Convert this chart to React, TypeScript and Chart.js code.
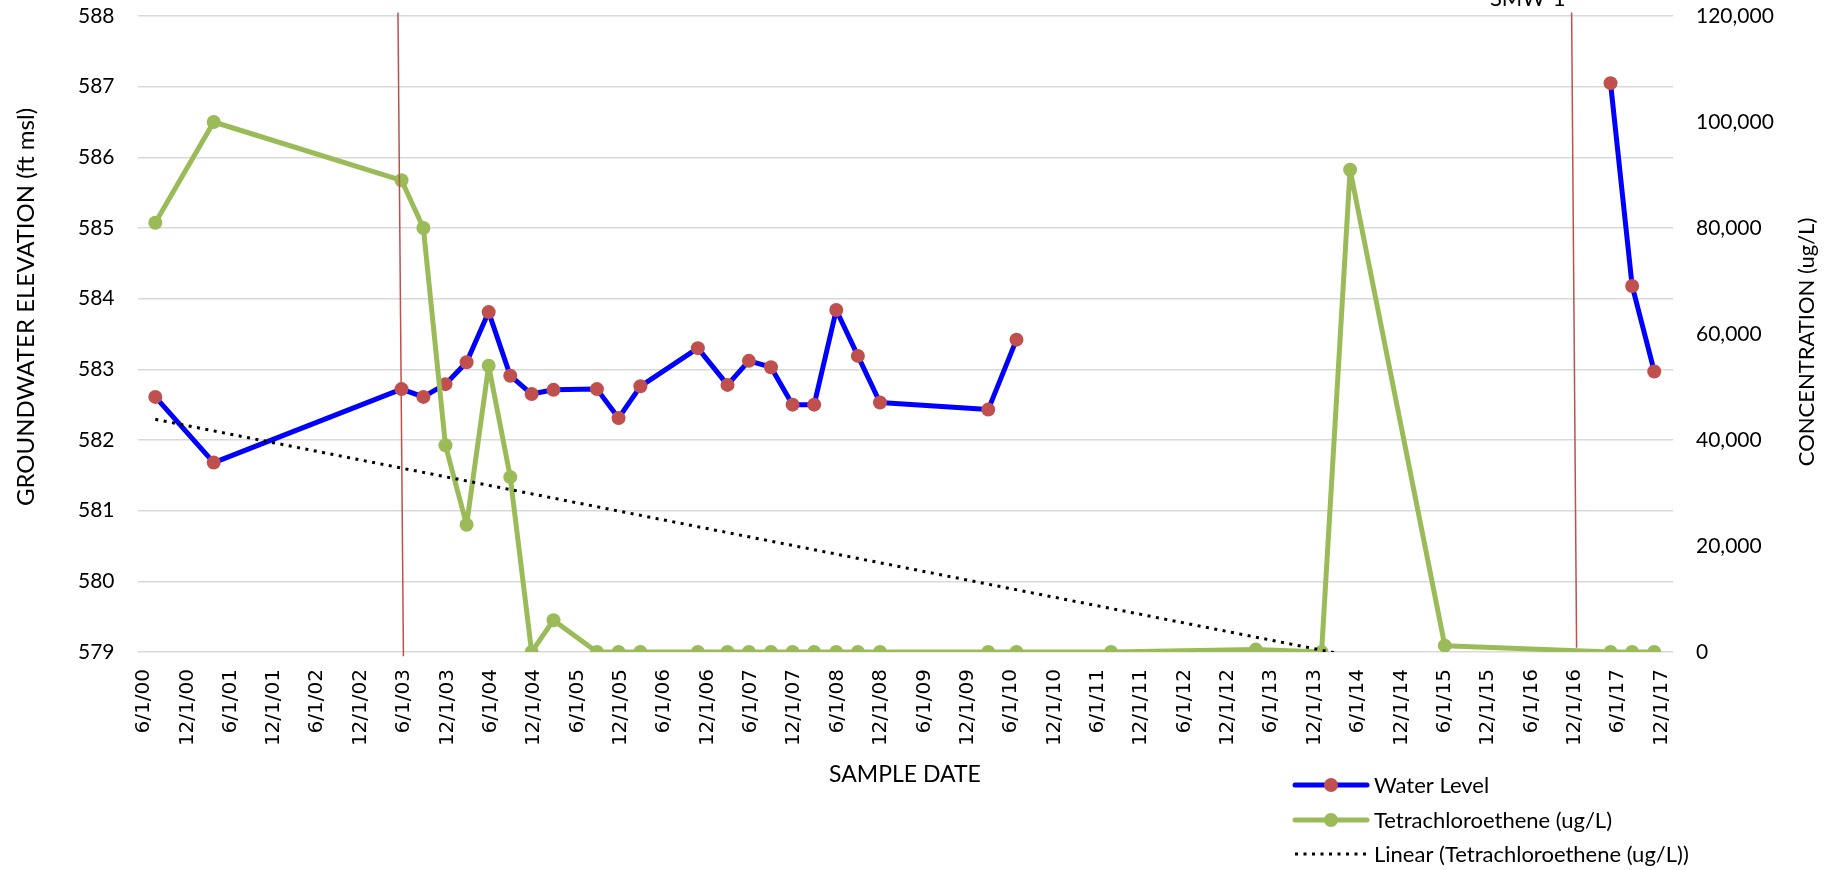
import React, { useEffect, useRef } from "react";
import { Chart, registerables } from "chart.js";

Chart.register(...registerables);

// ---------- data ----------
const SAMPLE_DATES = [
  "7/19/00", "3/22/01", "5/22/03", "8/22/03", "11/23/03", "2/20/04", "5/23/04", "8/22/04",
  "11/20/04", "2/20/05", "8/22/05", "11/21/05", "2/21/06", "10/21/06", "2/23/07", "5/24/07",
  "8/25/07", "11/24/07", "2/23/08", "5/26/08", "8/25/08", "11/26/08", "2/25/10", "6/24/10",
  "7/27/11", "3/28/13", "12/30/13", "4/29/14", "6/2/15", "4/30/17", "7/30/17", "10/31/17",
];

const WATER_LEVEL: (number | null)[] = [
  582.61, 581.68, 582.72, 582.61, 582.79, 583.1, 583.81, 582.91,
  582.65, 582.71, 582.72, 582.31, 582.76, 583.3, 582.78, 583.12,
  583.03, 582.5, 582.5, 583.84, 583.19, 582.53, 582.43, 583.42,
  null, null, null, null, null, 587.05, 584.18, 582.97,
];

const PCE = [
  81000, 100000, 89000, 80000, 39000, 24000, 54000, 33000,
  0, 6000, 0, 0, 0, 0, 0, 0,
  0, 0, 0, 0, 0, 0, 0, 0,
  0, 450, 0, 91000, 1200, 0, 0, 0,
];

const TICK_LABELS = [
  "6/1/00", "12/1/00", "6/1/01", "12/1/01", "6/1/02", "12/1/02", "6/1/03", "12/1/03",
  "6/1/04", "12/1/04", "6/1/05", "12/1/05", "6/1/06", "12/1/06", "6/1/07", "12/1/07",
  "6/1/08", "12/1/08", "6/1/09", "12/1/09", "6/1/10", "12/1/10", "6/1/11", "12/1/11",
  "6/1/12", "12/1/12", "6/1/13", "12/1/13", "6/1/14", "12/1/14", "6/1/15", "12/1/15",
  "6/1/16", "12/1/16", "6/1/17", "12/1/17",
];

const X_RANGE = ["5/5/00", "1/18/18"];
const LEFT_RANGE = [579, 588];
const RIGHT_RANGE = [0, 120000];

// vertical event markers (top date, bottom date, top value, bottom value, label)
const EVENT_TOP_DATES = ["5/7/03", "11/17/16"];
const EVENT_BOTTOM_DATES = ["5/30/03", "12/8/16"];
const EVENT_TOP_VALUES = [588.05, 588.05];
const EVENT_BOTTOM_VALUES = [578.94, 579.06];
const EVENT_LABELS = ["", "SMW-1"];

const SERIES_NAMES = ["Water Level", "Tetrachloroethene (ug/L)", "Linear (Tetrachloroethene (ug/L))"];

// ---------- helpers ----------
const parseDate = (s: string) => {
  const [m, d, y] = s.split("/").map(Number);
  return Date.UTC(2000 + y, m - 1, d);
};

const BLUE = "#0000FF";
const RED = "#C0504D";
const GREEN = "#9BBB59";
const GRID = "#D9D9D9";
const FONT = "Lato";

function linearFit(xs: number[], ys: number[]) {
  const n = xs.length;
  const mx = xs.reduce((a, b) => a + b, 0) / n;
  const my = ys.reduce((a, b) => a + b, 0) / n;
  let sxy = 0;
  let sxx = 0;
  for (let i = 0; i < n; i++) {
    sxy += (xs[i] - mx) * (ys[i] - my);
    sxx += (xs[i] - mx) * (xs[i] - mx);
  }
  const b = sxy / sxx;
  return { a: my - b * mx, b };
}

const overlayPlugin = {
  id: "overlay",
  afterDatasetsDraw(chart: any) {
    const { ctx, scales } = chart;
    const x = scales.x;
    const y = scales.y;
    ctx.save();
    EVENT_TOP_DATES.forEach((td, i) => {
      const x0 = x.getPixelForValue(parseDate(td));
      const x1 = x.getPixelForValue(parseDate(EVENT_BOTTOM_DATES[i]));
      const y0 = y.getPixelForValue(EVENT_TOP_VALUES[i]);
      const y1 = y.getPixelForValue(EVENT_BOTTOM_VALUES[i]);
      ctx.strokeStyle = RED;
      ctx.lineWidth = 1.5;
      ctx.beginPath();
      ctx.moveTo(x0, y0);
      ctx.lineTo(x1, y1);
      ctx.stroke();
      if (EVENT_LABELS[i]) {
        ctx.fillStyle = "#000";
        ctx.font = `22px ${FONT}`;
        ctx.textAlign = "right";
        ctx.textBaseline = "alphabetic";
        ctx.fillText(EVENT_LABELS[i], x0 - 6, y0 - 6);
      }
    });
    ctx.restore();
  },
  afterDraw(chart: any) {
    const { ctx } = chart;
    ctx.save();
    ctx.fillStyle = "#000";
    ctx.textAlign = "center";
    ctx.textBaseline = "middle";
    // axis titles
    ctx.save();
    ctx.font = `24px ${FONT}`;
    ctx.translate(26, 307);
    ctx.rotate(-Math.PI / 2);
    ctx.fillText("GROUNDWATER ELEVATION (ft msl)", 0, 0);
    ctx.restore();
    ctx.save();
    ctx.font = `22px ${FONT}`;
    ctx.translate(1807, 342);
    ctx.rotate(-Math.PI / 2);
    ctx.fillText("CONCENTRATION (ug/L)", 0, 0);
    ctx.restore();
    ctx.font = `23px ${FONT}`;
    ctx.fillText("SAMPLE DATE", 905, 775);

    // legend
    const rows = [785, 820, 854];
    const lx0 = 1295;
    const lx1 = 1367;
    const tx = 1374;
    ctx.font = `22px ${FONT}`;
    ctx.textAlign = "left";
    rows.forEach((ry, i) => {
      ctx.save();
      if (i === 2) {
        ctx.strokeStyle = "#000";
        ctx.lineWidth = 3;
        ctx.setLineDash([3, 5.5]);
      } else {
        ctx.strokeStyle = i === 0 ? BLUE : GREEN;
        ctx.lineWidth = 5;
        ctx.lineCap = "round";
      }
      ctx.beginPath();
      ctx.moveTo(lx0, ry);
      ctx.lineTo(lx1, ry);
      ctx.stroke();
      if (i < 2) {
        ctx.fillStyle = i === 0 ? RED : GREEN;
        ctx.beginPath();
        ctx.arc((lx0 + lx1) / 2, ry, 7, 0, Math.PI * 2);
        ctx.fill();
      }
      ctx.restore();
      ctx.fillText(SERIES_NAMES[i], tx, ry + 1);
    });
    ctx.restore();
  },
};

export default function App() {
  const ref = useRef<HTMLCanvasElement | null>(null);

  useEffect(() => {
    if (!ref.current) return;
    const xs = SAMPLE_DATES.map(parseDate);
    const wl = xs.map((x, i) => ({ x, y: WATER_LEVEL[i] }));
    const pce = xs.map((x, i) => ({ x, y: PCE[i] }));
    const fit = linearFit(xs, PCE);
    const xFirst = xs[0];
    const xLast = xs[xs.length - 1];
    const trend = [
      { x: xFirst, y: fit.a + fit.b * xFirst },
      { x: xLast, y: fit.a + fit.b * xLast },
    ];
    const tickValues = TICK_LABELS.map(parseDate);
    const labelFor = (v: number) => {
      const i = tickValues.indexOf(v);
      return i >= 0 ? TICK_LABELS[i] : "";
    };
    const fixVertical = (w: number) => (s: any) => {
      s.width = w;
      s.paddingTop = 0;
      s.paddingBottom = 0;
    };

    const chart = new Chart(ref.current, {
      type: "line",
      data: {
        datasets: [
          {
            label: SERIES_NAMES[2],
            data: trend,
            yAxisID: "y1",
            borderColor: "#000",
            borderWidth: 3,
            borderDash: [3, 5.5],
            pointRadius: 0,
            fill: false,
            order: 1,
          },
          {
            label: SERIES_NAMES[1],
            data: pce,
            yAxisID: "y1",
            borderColor: GREEN,
            backgroundColor: GREEN,
            borderWidth: 5,
            borderJoinStyle: "round",
            pointRadius: 7,
            pointBackgroundColor: GREEN,
            pointBorderWidth: 0,
            fill: false,
            order: 2,
          },
          {
            label: SERIES_NAMES[0],
            data: wl,
            yAxisID: "y",
            borderColor: BLUE,
            backgroundColor: RED,
            borderWidth: 5,
            borderJoinStyle: "round",
            pointRadius: 7,
            pointBackgroundColor: RED,
            pointBorderWidth: 0,
            spanGaps: false,
            fill: false,
            order: 3,
          },
        ],
      } as any,
      options: {
        animation: false,
        responsive: false,
        devicePixelRatio: 1,
        layout: { padding: { top: 16, left: 0, right: 0, bottom: 0 } },
        plugins: { legend: { display: false }, tooltip: { enabled: false } },
        scales: {
          x: {
            type: "linear",
            position: "bottom",
            min: parseDate(X_RANGE[0]),
            max: parseDate(X_RANGE[1]),
            afterBuildTicks: (s: any) => {
              s.ticks = tickValues.map((v) => ({ value: v }));
            },
            afterFit: (s: any) => {
              s.height = 218;
              s.paddingLeft = 0;
              s.paddingRight = 0;
            },
            ticks: {
              autoSkip: false,
              minRotation: 90,
              maxRotation: 90,
              padding: 17,
              color: "#000",
              font: { family: "DejaVu Sans", size: 20 },
              callback: (v: any) => labelFor(Number(v)),
            },
            grid: { display: false, drawTicks: false },
            border: { display: false },
          },
          y: {
            type: "linear",
            position: "left",
            min: LEFT_RANGE[0],
            max: LEFT_RANGE[1],
            afterFit: fixVertical(137.5),
            ticks: {
              stepSize: 1,
              padding: 23,
              color: "#000",
              font: { family: FONT, size: 21 },
            },
            grid: { color: GRID, lineWidth: 1.5, drawTicks: false },
            border: { display: false },
          },
          y1: {
            type: "linear",
            position: "right",
            min: RIGHT_RANGE[0],
            max: RIGHT_RANGE[1],
            afterFit: fixVertical(164),
            ticks: {
              stepSize: 20000,
              padding: 23,
              color: "#000",
              font: { family: FONT, size: 21 },
              callback: (v: any) => Number(v).toLocaleString("en-US"),
            },
            grid: { display: false, drawTicks: false },
            border: { display: false },
          },
        },
      } as any,
      plugins: [overlayPlugin],
    });
    return () => chart.destroy();
  }, []);

  return (
    <div style={{ position: "absolute", left: 0, top: 0, width: 1837, height: 870, background: "#fff" }}>
      <canvas ref={ref} width={1837} height={870} style={{ display: "block" }} />
    </div>
  );
}
